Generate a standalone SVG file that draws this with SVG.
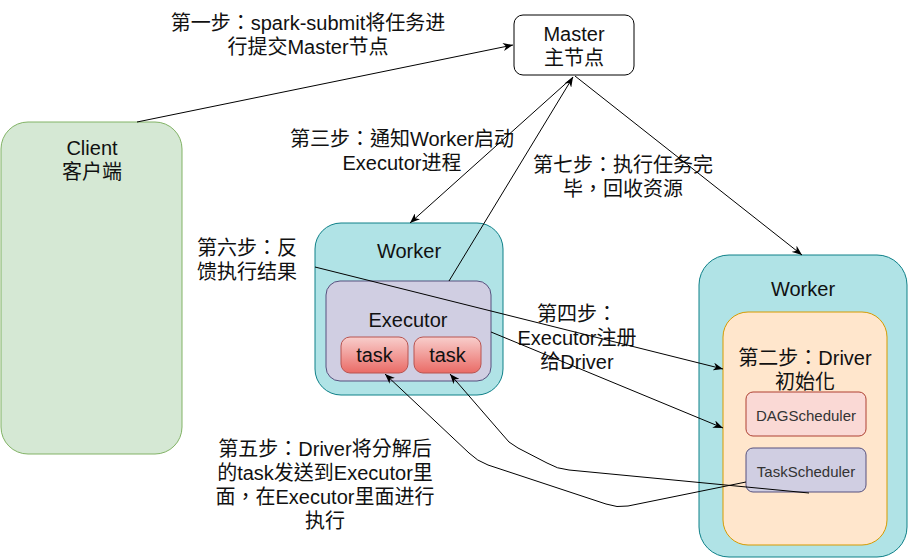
<svg xmlns="http://www.w3.org/2000/svg" width="909" height="559" viewBox="0 0 909 559">
<defs>
<style>
text{font-family:"Liberation Sans","Noto Sans CJK TC","Noto Sans CJK SC",sans-serif;font-size:20px;fill:#111;text-anchor:middle}
.sm{font-size:15px;fill:#333}
.ln{fill:none;stroke:#000;stroke-width:1}
</style>
<linearGradient id="tg" x1="0" y1="0" x2="0" y2="1"><stop offset="0" stop-color="#f8cecc"/><stop offset="1" stop-color="#ea6b66"/></linearGradient>
<marker id="ar" viewBox="0 0 10 8" refX="10" refY="4" markerWidth="10" markerHeight="8" markerUnits="userSpaceOnUse" orient="auto"><path d="M0,0 L10,4 L0,8 L3,4 z" fill="#000"/></marker>
</defs>
<g id="client"><rect x="1" y="122" width="181" height="332" rx="27" fill="#d5e8d4" stroke="#82b366"/><text x="92" y="155">Client</text><text x="92" y="179">客户端</text></g>
<g id="master"><rect x="514" y="15" width="120" height="60" rx="9" fill="#fff" stroke="#000"/><text x="574" y="41">Master</text><text x="574" y="65">主节点</text></g>
<g id="worker1"><rect x="315" y="223" width="188" height="172" rx="26" fill="#b0e3e6" stroke="#0e8088"/><text x="409" y="258">Worker</text></g>
<g id="executor"><rect x="326" y="281" width="165" height="100" rx="14" fill="#d0cee2" stroke="#56517e"/><text x="408" y="327">Executor</text></g>
<g id="task1"><rect x="341" y="337" width="67" height="36" rx="9" fill="url(#tg)" stroke="#b85450"/><text x="374.5" y="362">task</text></g>
<g id="task2"><rect x="414" y="337" width="67" height="36" rx="9" fill="url(#tg)" stroke="#b85450"/><text x="447.5" y="362">task</text></g>
<g id="worker2"><rect x="699" y="255" width="208" height="302" rx="30" fill="#b0e3e6" stroke="#0e8088"/><text x="803" y="296">Worker</text></g>
<g id="driver"><rect x="723" y="312" width="164" height="233" rx="25" fill="#ffe6cc" stroke="#d79b00"/><text x="805" y="365">第二步：Driver</text><text x="805" y="389">初始化</text></g>
<g id="dag"><rect x="746" y="392" width="120" height="44" rx="7" fill="#fad9d5" stroke="#ae4132"/><text class="sm" x="806" y="421">DAGScheduler</text></g>
<g id="tasksched"><rect x="746" y="448" width="120" height="44" rx="7" fill="#d0cee2" stroke="#56517e"/><text class="sm" x="806" y="477">TaskScheduler</text></g>
<g id="labels">
<text x="308" y="30">第一步：spark-submit将任务进</text><text x="308" y="54">行提交Master节点</text>
<text x="402" y="146">第三步：通知Worker启动</text><text x="402" y="170">Executor进程</text>
<text x="623" y="172">第七步：执行任务完</text><text x="623" y="196">毕，回收资源</text>
<text x="247" y="255">第六步：反</text><text x="247" y="279">馈执行结果</text>
<text x="577" y="321">第四步：</text><text x="577" y="345">Executor注册</text><text x="577" y="369">给Driver</text>
<text x="325" y="456">第五步：Driver将分解后</text><text x="325" y="480">的task发送到Executor里</text><text x="325" y="504">面，在Executor里面进行</text><text x="325" y="528">执行</text>
</g>
<g id="connectors">
<path class="ln" d="M137 122 L513 45" marker-end="url(#ar)"/>
<path class="ln" d="M573 77 L410 223" marker-end="url(#ar)"/>
<path class="ln" d="M449 281 L573 77" marker-end="url(#ar)"/>
<path class="ln" d="M575 76 L802 255" marker-end="url(#ar)"/>
<path class="ln" d="M315 267 L723 369" marker-end="url(#ar)"/>
<path class="ln" d="M491 332 L723 428" marker-end="url(#ar)"/>
<path class="ln" d="M746 482 L628 506 Q617 508 606 504 L488 465 Q477 461 469 453 L385 374" marker-end="url(#ar)"/>
<path class="ln" d="M809 493 L569 470 Q557 469 547 463 L518 448 Q508 443 502 434 L450 374" marker-end="url(#ar)"/>
</g>
</svg>
